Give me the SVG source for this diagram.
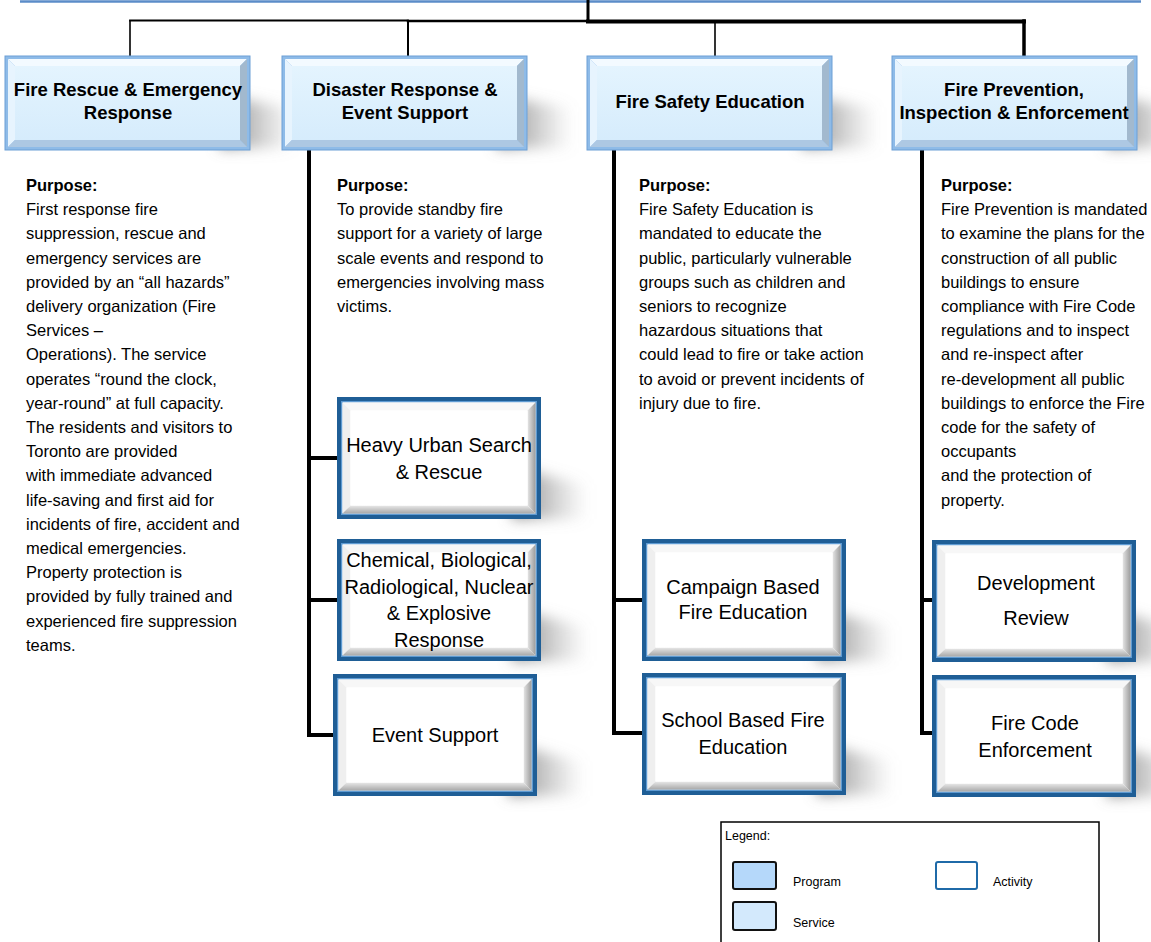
<svg xmlns="http://www.w3.org/2000/svg" xmlns:xlink="http://www.w3.org/1999/xlink" width="1151" height="942" viewBox="0 0 1151 942">
<style>
.ptitle{font-family:"Liberation Sans",Arial,sans-serif;font-weight:bold;font-size:18.5px;fill:#000;text-anchor:middle}
.atext{font-family:"Liberation Sans",Arial,sans-serif;font-size:20px;fill:#000;text-anchor:middle}
.purp{font-family:"Liberation Sans",Arial,sans-serif;font-size:16.5px;fill:#000}
.purp .h{font-weight:bold}
.leg{font-family:"Liberation Sans",Arial,sans-serif;font-size:12.5px;fill:#000}
.conn{stroke:#000;fill:none;stroke-linecap:square}
</style>
<defs>
<filter id="blur" x="-50%" y="-50%" width="200%" height="200%"><feGaussianBlur stdDeviation="7"/></filter>
<linearGradient id="shg" x1="0" y1="0" x2="1" y2="0">
<stop offset="0" stop-color="#7a7a7a" stop-opacity="0.9"/>
<stop offset="1" stop-color="#9a9a9a" stop-opacity="0"/>
</linearGradient>
<linearGradient id="pface" x1="0" y1="0" x2="0" y2="1">
<stop offset="0" stop-color="#e4f4fe"/>
<stop offset="1" stop-color="#d6ecfc"/>
</linearGradient>
<linearGradient id="aright" x1="0" y1="0" x2="1" y2="0">
<stop offset="0" stop-color="#e6e6e6"/>
<stop offset="1" stop-color="#9c9c9c"/>
</linearGradient>
<linearGradient id="abottom" x1="0" y1="0" x2="0" y2="1">
<stop offset="0" stop-color="#e8e8e8"/>
<stop offset="1" stop-color="#a8a8a8"/>
</linearGradient>
<g id="progBox">
<polygon points="215,40 290,52 290,92 215,92" fill="url(#shg)" filter="url(#blur)"/>
<rect x="0" y="0" width="245" height="94" fill="#8ebbe8" stroke="#6c9fd5" stroke-width="1"/>
<polygon points="3,3 242,3 235,10 10,10" fill="#f3faff"/>
<polygon points="3,3 10,10 10,84 3,91" fill="#e7f4fe"/>
<polygon points="242,3 242,91 235,84 235,10" fill="#a2b9ce"/>
<polygon points="3,91 242,91 235,84 10,84" fill="#adc8e3"/>
<rect x="10" y="10" width="225" height="74" fill="url(#pface)"/>
</g>
<g id="actBox">
<polygon points="175,70 250,88 250,122 175,122" fill="url(#shg)" filter="url(#blur)"/>
<rect x="0" y="0" width="204" height="122" fill="#1f5e96"/>
<rect x="4" y="4" width="196" height="114" fill="#5d9ad2"/>
<rect x="5.5" y="5.5" width="193" height="111" fill="#ffffff"/>
<polygon points="5.5,5.5 198.5,5.5 190.5,13.5 13.5,13.5" fill="#f7f7f7"/>
<polygon points="5.5,5.5 13.5,13.5 13.5,108.5 5.5,116.5" fill="#efefef"/>
<polygon points="198.5,5.5 198.5,116.5 190.5,108.5 190.5,13.5" fill="url(#aright)"/>
<polygon points="5.5,116.5 198.5,116.5 190.5,108.5 13.5,108.5" fill="url(#abottom)"/>
<rect x="13.5" y="13.5" width="177" height="95" fill="#ffffff"/>
</g>
</defs>

<g id="root-edge">
<line x1="20" y1="1.5" x2="1141" y2="1.5" stroke="#5b8cc8" stroke-width="2.5"/>
</g>

<g id="connectors">
<line class="conn" x1="588" y1="0" x2="588" y2="21" stroke-width="3"/>
<line class="conn" x1="130" y1="20.5" x2="408" y2="20.5" stroke-width="1.8"/>
<line class="conn" x1="408" y1="21" x2="588" y2="21" stroke-width="2.5"/>
<line class="conn" x1="588" y1="21.5" x2="1024" y2="21.5" stroke-width="4"/>
<line class="conn" x1="130" y1="21" x2="130" y2="56" stroke-width="1.6"/>
<line class="conn" x1="408" y1="21" x2="408" y2="56" stroke-width="2"/>
<line class="conn" x1="715" y1="21" x2="715" y2="56" stroke-width="1.6"/>
<line class="conn" x1="1024" y1="21" x2="1024" y2="56" stroke-width="3.5"/>
<path class="conn" d="M309,150 V735 H333 M309,458 H337 M309,600 H337" stroke-width="4"/>
<path class="conn" d="M614,150 V733 H642 M614,600 H642" stroke-width="4"/>
<path class="conn" d="M922,150 V733 H932 M922,600 H932" stroke-width="4"/>
</g>

<g id="prog-fire-rescue">
<use xlink:href="#progBox" x="5" y="56"/>
<text class="ptitle" x="128" y="96">Fire Rescue &amp; Emergency</text>
<text class="ptitle" x="128" y="119">Response</text>
</g>
<g id="prog-disaster">
<use xlink:href="#progBox" x="282" y="56"/>
<text class="ptitle" x="405" y="96">Disaster Response &amp;</text>
<text class="ptitle" x="405" y="119">Event Support</text>
</g>
<g id="prog-education">
<use xlink:href="#progBox" x="587" y="56"/>
<text class="ptitle" x="710" y="108">Fire Safety Education</text>
</g>
<g id="prog-prevention">
<use xlink:href="#progBox" x="892" y="56"/>
<text class="ptitle" x="1014" y="96">Fire Prevention,</text>
<text class="ptitle" x="1014" y="119">Inspection &amp; Enforcement</text>
</g>

<g id="purpose-1">
<text class="purp" x="26" y="191"><tspan class="h">Purpose:</tspan>
<tspan x="26" dy="24.2">First response fire</tspan>
<tspan x="26" dy="24.2">suppression, rescue and</tspan>
<tspan x="26" dy="24.2">emergency services are</tspan>
<tspan x="26" dy="24.2">provided by an “all hazards”</tspan>
<tspan x="26" dy="24.2">delivery organization (Fire</tspan>
<tspan x="26" dy="24.2">Services –</tspan>
<tspan x="26" dy="24.2">Operations). The service</tspan>
<tspan x="26" dy="24.2">operates “round the clock,</tspan>
<tspan x="26" dy="24.2">year-round” at full capacity.</tspan>
<tspan x="26" dy="24.2">The residents and visitors to</tspan>
<tspan x="26" dy="24.2">Toronto are provided</tspan>
<tspan x="26" dy="24.2">with immediate advanced</tspan>
<tspan x="26" dy="24.2">life-saving and first aid for</tspan>
<tspan x="26" dy="24.2">incidents of fire, accident and</tspan>
<tspan x="26" dy="24.2">medical emergencies.</tspan>
<tspan x="26" dy="24.2">Property protection is</tspan>
<tspan x="26" dy="24.2">provided by fully trained and</tspan>
<tspan x="26" dy="24.2">experienced fire suppression</tspan>
<tspan x="26" dy="24.2">teams.</tspan></text>
</g>
<g id="purpose-2">
<text class="purp" x="337" y="191"><tspan class="h">Purpose:</tspan>
<tspan x="337" dy="24.2">To provide standby fire</tspan>
<tspan x="337" dy="24.2">support for a variety of large</tspan>
<tspan x="337" dy="24.2">scale events and respond to</tspan>
<tspan x="337" dy="24.2">emergencies involving mass</tspan>
<tspan x="337" dy="24.2">victims.</tspan></text>
</g>
<g id="purpose-3">
<text class="purp" x="639" y="191"><tspan class="h">Purpose:</tspan>
<tspan x="639" dy="24.2">Fire Safety Education is</tspan>
<tspan x="639" dy="24.2">mandated to educate the</tspan>
<tspan x="639" dy="24.2">public, particularly vulnerable</tspan>
<tspan x="639" dy="24.2">groups such as children and</tspan>
<tspan x="639" dy="24.2">seniors to recognize</tspan>
<tspan x="639" dy="24.2">hazardous situations that</tspan>
<tspan x="639" dy="24.2">could lead to fire or take action</tspan>
<tspan x="639" dy="24.2">to avoid or prevent incidents of</tspan>
<tspan x="639" dy="24.2">injury due to fire.</tspan></text>
</g>
<g id="purpose-4">
<text class="purp" x="941" y="191"><tspan class="h">Purpose:</tspan>
<tspan x="941" dy="24.2">Fire Prevention is mandated</tspan>
<tspan x="941" dy="24.2">to examine the plans for the</tspan>
<tspan x="941" dy="24.2">construction of all public</tspan>
<tspan x="941" dy="24.2">buildings to ensure</tspan>
<tspan x="941" dy="24.2">compliance with Fire Code</tspan>
<tspan x="941" dy="24.2">regulations and to inspect</tspan>
<tspan x="941" dy="24.2">and re-inspect after</tspan>
<tspan x="941" dy="24.2">re-development all public</tspan>
<tspan x="941" dy="24.2">buildings to enforce the Fire</tspan>
<tspan x="941" dy="24.2">code for the safety of</tspan>
<tspan x="941" dy="24.2">occupants</tspan>
<tspan x="941" dy="24.2">and the protection of</tspan>
<tspan x="941" dy="24.2">property.</tspan></text>
</g>

<g id="act-heavy-urban">
<use xlink:href="#actBox" x="337" y="397"/>
<text class="atext" x="439" y="452">Heavy Urban Search</text>
<text class="atext" x="439" y="479">&amp; Rescue</text>
</g>
<g id="act-cbrne">
<use xlink:href="#actBox" x="337" y="539"/>
<text class="atext" x="439" y="567">Chemical, Biological,</text>
<text class="atext" x="439" y="594">Radiological, Nuclear</text>
<text class="atext" x="439" y="620">&amp; Explosive</text>
<text class="atext" x="439" y="647">Response</text>
</g>
<g id="act-event-support">
<use xlink:href="#actBox" x="333" y="674"/>
<text class="atext" x="435" y="742">Event Support</text>
</g>
<g id="act-campaign">
<use xlink:href="#actBox" x="642" y="539"/>
<text class="atext" x="743" y="594">Campaign Based</text>
<text class="atext" x="743" y="619">Fire Education</text>
</g>
<g id="act-school">
<use xlink:href="#actBox" x="642" y="673"/>
<text class="atext" x="743" y="727">School Based Fire</text>
<text class="atext" x="743" y="754">Education</text>
</g>
<g id="act-development">
<use xlink:href="#actBox" x="932" y="540"/>
<text class="atext" x="1036" y="590">Development</text>
<text class="atext" x="1036" y="625">Review</text>
</g>
<g id="act-fire-code">
<use xlink:href="#actBox" x="932" y="675"/>
<text class="atext" x="1035" y="730">Fire Code</text>
<text class="atext" x="1035" y="757">Enforcement</text>
</g>

<g id="legend">
<rect x="721" y="822" width="378" height="130" fill="#ffffff" stroke="#000" stroke-width="1.5"/>
<text class="leg" x="725" y="840">Legend:</text>
<rect x="733" y="862" width="43" height="27" rx="2" fill="#b5d8fa" stroke="#111" stroke-width="2"/>
<text class="leg" x="793" y="886">Program</text>
<rect x="936" y="862" width="41" height="27" rx="2" fill="#ffffff" stroke="#1f6aa8" stroke-width="2"/>
<text class="leg" x="993" y="886">Activity</text>
<rect x="733" y="902" width="43" height="28" rx="2" fill="#d3e9fc" stroke="#111" stroke-width="2"/>
<text class="leg" x="793" y="927">Service</text>
</g>
</svg>
